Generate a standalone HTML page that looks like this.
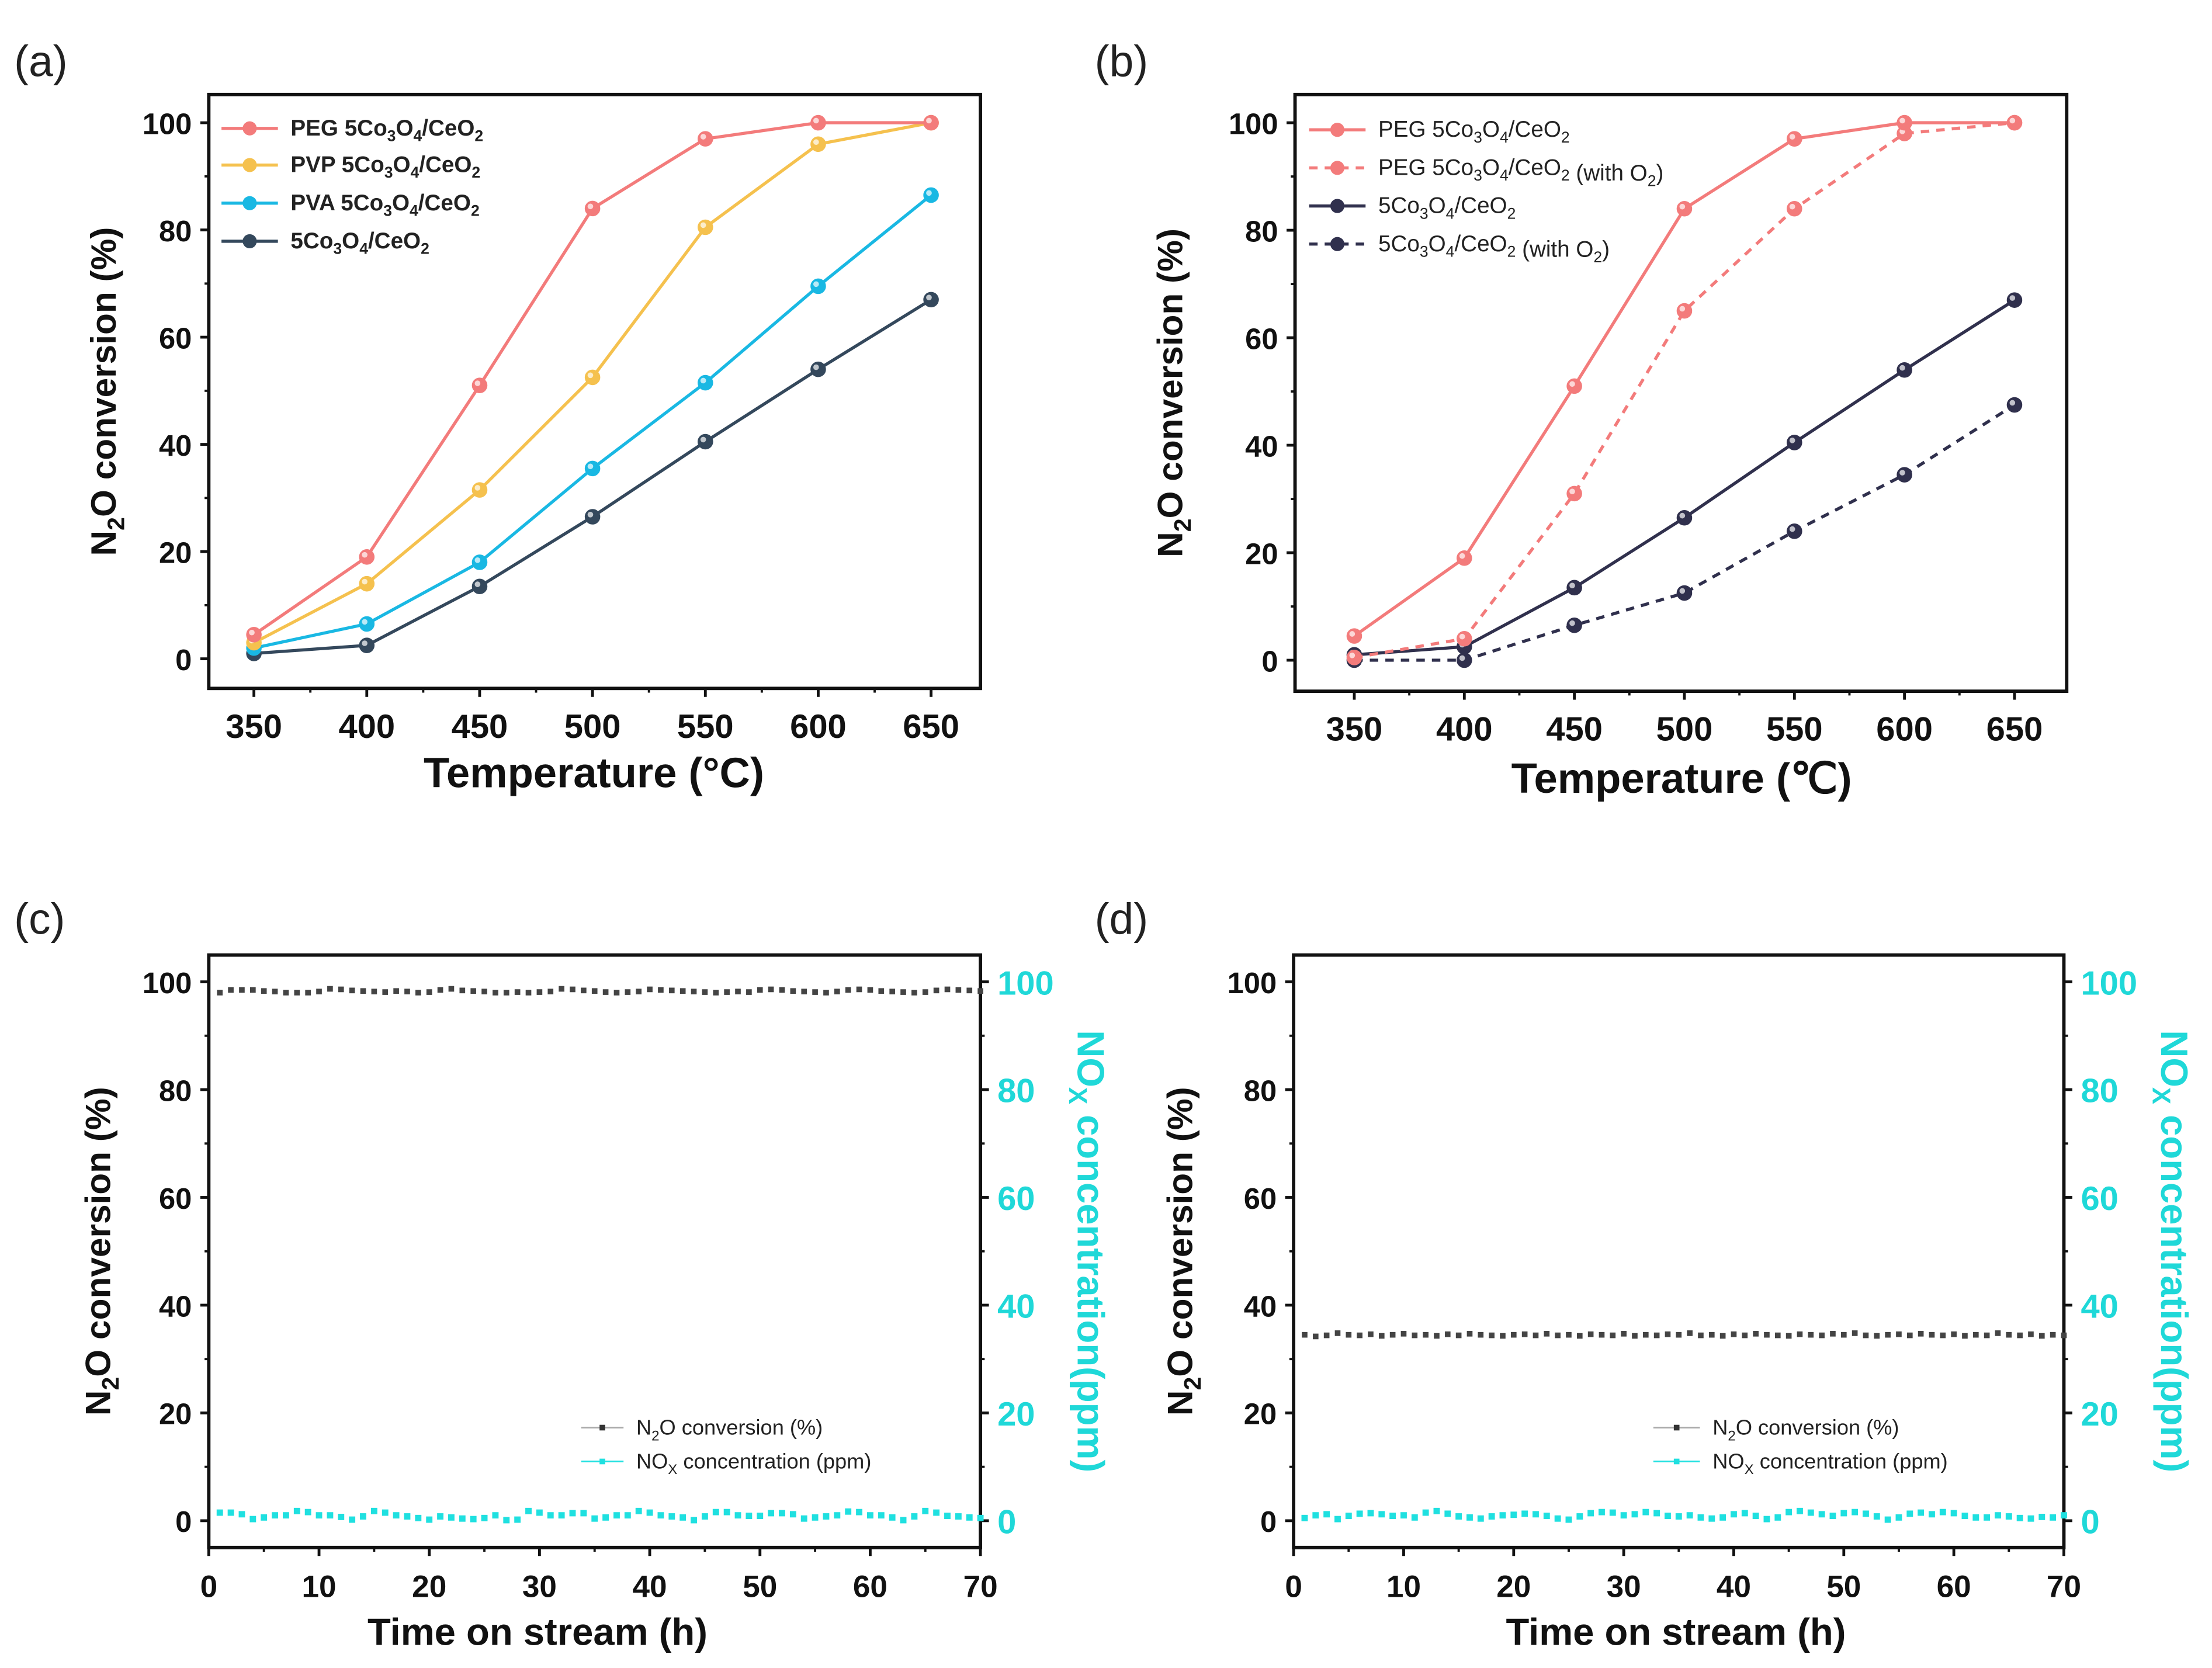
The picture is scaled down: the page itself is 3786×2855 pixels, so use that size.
<!DOCTYPE html>
<html><head><meta charset="utf-8"><style>
html,body{margin:0;padding:0;background:#fff;}
svg{display:block;font-family:"Liberation Sans",Arial,sans-serif;}
</style></head><body>
<svg id="fig" width="3786" height="2855" viewBox="0 0 1568 1182.4" xmlns="http://www.w3.org/2000/svg"></svg>
<script>
// ---- data ----
const tempsA = [350,400,450,500,550,600,650];
const pegA = [4.5,19,51,84,97,100,100];
const pvpA = [3,14,31.5,52.5,80.5,96,100];
const pvaA = [2,6.5,18,35.5,51.5,69.5,86.5];
const coA = [1,2.5,13.5,26.5,40.5,54,67];
const pegO2B = [0.5,4,31,65,84,98,100];
const coO2B = [0,0,6.5,12.5,24,34.5,47.5];
const yTicksTemp = [0,20,40,60,80,100];
const xTicksTemp = [350,400,450,500,550,600,650];
const xTicksTime = [0,10,20,30,40,50,60,70];
const n2oC = [98,98.5,98.5,98.5,98.3,98.2,98,98,98,98.2,98.7,98.6,98.4,98.3,98.2,98.1,98.3,98.2,98,98.1,98.5,98.7,98.4,98.3,98.2,98,98,98.1,98,98.1,98.2,98.7,98.6,98.4,98.3,98.1,98,98.1,98.2,98.6,98.5,98.4,98.3,98.2,98.1,98,98.1,98.2,98.1,98.5,98.6,98.5,98.3,98.2,98.1,98,98.2,98.5,98.6,98.5,98.3,98.2,98.1,98,98.1,98.4,98.6,98.5,98.4,98.3];
const noxC = [1.5,1.5,1.2,0.3,0.6,1,1,1.8,1.6,1,1,0.7,0.2,0.8,1.8,1.5,1,0.8,0.5,0.2,0.8,0.6,0.4,0.3,0.5,1,0.1,0.2,1.8,1.5,1,1,1.4,1.4,0.4,0.6,1,1,1.8,1.5,1,0.8,0.6,0.1,0.8,1.6,1.6,1,0.9,0.9,1.4,1.4,1.2,0.4,0.6,0.8,1,1.7,1.6,1,1,0.6,0.1,0.8,1.8,1.5,0.9,0.8,0.6,0.5];
const n2oD = [34.5,34.2,34.4,34.8,34.5,34.4,34.6,34.3,34.5,34.7,34.4,34.5,34.3,34.6,34.4,34.7,34.5,34.4,34.3,34.5,34.6,34.4,34.7,34.4,34.5,34.3,34.6,34.5,34.4,34.7,34.3,34.5,34.4,34.6,34.5,34.8,34.4,34.5,34.3,34.6,34.4,34.7,34.5,34.4,34.3,34.6,34.5,34.4,34.7,34.5,34.8,34.4,34.3,34.5,34.6,34.4,34.7,34.5,34.4,34.6,34.3,34.5,34.4,34.8,34.5,34.4,34.6,34.3,34.5,34.4];
const noxD = [0.5,1,1.2,0.3,0.9,1.3,1.4,1.2,0.9,1,0.6,1.5,1.8,1.3,0.8,0.6,0.4,0.8,1,1.1,1.3,1.2,0.9,0.4,0.2,0.8,1.4,1.6,1.5,1,1.2,1.6,1.4,0.9,0.8,1,0.6,0.4,0.6,1.2,1.4,0.9,0.3,0.6,1.6,1.8,1.5,1.2,0.9,1.4,1.6,1.3,0.8,0.2,0.6,1.3,1.5,1.2,1.6,1.4,0.9,0.6,0.6,1,0.8,0.5,0.4,0.7,0.6,1];

const NS='http://www.w3.org/2000/svg';
const svg=document.getElementById('fig');
function mk(tag,attrs,parent){const e=document.createElementNS(NS,tag);for(const k in attrs)e.setAttribute(k,attrs[k]);(parent||svg).appendChild(e);return e;}
function txt(s,attrs,parent){const e=mk('text',attrs,parent);e.innerHTML=s;return e;}

function panel(o){
  const g=mk('g',{});
  
  
  const X=v=>o.x0+(v-o.xmin)/(o.xmax-o.xmin)*(o.x1-o.x0);
  const Y=v=>o.y0+(v-o.ymin)/(o.ymax-o.ymin)*(o.y1-o.y0);
  const fr=mk('rect',{x:o.fx0,y:o.fy0,width:o.fx1-o.fx0,height:o.fy1-o.fy0,fill:'none',stroke:'#111','stroke-width':2.4},g);
  
  
  const lab=txt(o.label,{x:o.lx,y:o.ly,'font-size':31,fill:'#222'},g);
  
  
  o.yt.forEach((v,i)=>{
    const y=Y(v);
    mk('line',{x1:o.fx0-6,x2:o.fx0,y1:y,y2:y,stroke:'#111','stroke-width':2},g);
    const t=txt(v,{x:o.fx0-12,y:y+8,'font-size':o.tfs,'font-weight':'bold','text-anchor':'end',fill:'#111'},g);
    
    
    if(i<o.yt.length-1){const ym=Y(v+(o.yt[1]-o.yt[0])/2);mk('line',{x1:o.fx0-3,x2:o.fx0,y1:ym,y2:ym,stroke:'#111','stroke-width':1.6},g);}
    if(o.right){
      mk('line',{x1:o.fx1,x2:o.fx1+6,y1:y,y2:y,stroke:'#111','stroke-width':2},g);
      const r=txt(v,{x:o.fx1+12,y:y+9,'font-size':24,'font-weight':'bold',fill:'#1fd8d8'},g);
      
      
      if(i<o.yt.length-1){const ym=Y(v+(o.yt[1]-o.yt[0])/2);mk('line',{x1:o.fx1,x2:o.fx1+3,y1:ym,y2:ym,stroke:'#111','stroke-width':1.6},g);}
    }
  });
  o.xt.forEach((v,i)=>{
    const x=X(v);
    mk('line',{x1:x,x2:x,y1:o.fy1,y2:o.fy1+6,stroke:'#111','stroke-width':2},g);
    const t=txt(v,{x:x,y:o.fy1+35,'font-size':o.xfs,'font-weight':'bold','text-anchor':'middle',fill:'#111'},g);
    
    
    if(i<o.xt.length-1){const xm=X(v+(o.xt[1]-o.xt[0])/2);mk('line',{x1:xm,x2:xm,y1:o.fy1,y2:o.fy1+3,stroke:'#111','stroke-width':1.6},g);}
  });
  const xt=txt(o.xtitle,{x:o.xtx,y:o.xty,'font-size':o.xtfs,'font-weight':'bold','text-anchor':'middle',fill:'#111'},g);
  
  
  const cy=(o.fy0+o.fy1)/2;
  const yt=txt('N<tspan dy="6" font-size="17">2</tspan><tspan dy="-6">O conversion (%)</tspan>',{x:o.ytx,y:cy,'font-size':25,'font-weight':'bold','text-anchor':'middle',fill:'#111',transform:`rotate(-90 ${o.ytx} ${cy})`},g);
  
  
  if(o.right){
    const rt=txt('NO<tspan dy="6" font-size="18">X</tspan><tspan dy="-6"> concentration(ppm)</tspan>',{x:o.rtx,y:cy,'font-size':27,'font-weight':'bold','text-anchor':'middle',fill:'#1fd8d8',transform:`rotate(90 ${o.rtx} ${cy})`},g);
    
    
  }
  return {g,X,Y};
}
function lineSeries(p,xs,ys,color,dash,name){
  const g=mk('g',{},p.g);
  
  
  mk('polyline',{points:xs.map((x,i)=>p.X(x)+','+p.Y(ys[i])).join(' '),fill:'none',stroke:color,'stroke-width':2.2,'stroke-dasharray':dash||'none'},g);
  xs.forEach((x,i)=>{
    const c=mk('circle',{cx:p.X(x),cy:p.Y(ys[i]),r:5,fill:color,stroke:color,'stroke-width':1},g);
    
    
    mk('circle',{cx:p.X(x)-1.5,cy:p.Y(ys[i])-1.5,r:2,fill:'#fff',opacity:0.7},g);
  });
}
function squares(p,ys,color,name,sz){
  const g=mk('g',{},p.g);
  
  
  ys.forEach((v,i)=>{
    const s=mk('rect',{x:p.X(i+1)-sz/2,y:p.Y(v)-sz/2,width:sz,height:sz,fill:color},g);
    
    
  });
}
function legendItem(parent,x,y,len,color,dash,label,fs,bold,name,marker){
  const g=mk('g',{},parent);
  
  
  mk('line',{x1:x,x2:x+len,y1:y,y2:y,stroke:color,'stroke-width':marker==='sq'?1.2:2.2,'stroke-dasharray':dash||'none'},g);
  if(marker==='sq')mk('rect',{x:x+len/2-2,y:y-2,width:4,height:4,fill:color==='#aaa'?'#333':color},g);
  else mk('circle',{cx:x+len/2,cy:y,r:5,fill:color},g);
  txt(label,{x:x+len+9,y:y+5,'font-size':fs,'font-weight':bold?'bold':'normal',fill:'#222'},g);
}
const sub=s=>`<tspan dy="4" font-size="11">${s}</tspan><tspan dy="-4">`;
const co=`5Co${sub(3)}O</tspan>${sub(4)}/CeO</tspan>${sub(2)}</tspan>`;

const colPEG='#f37b7b',colPVP='#f5c14e',colPVA='#19b8e3',colCO='#34485c',colNavy='#30304d',cyan='#1fe0e0';

// Panel a
const pa=panel({name:'panel-a',label:'(a)',lx:10,ly:54,fx0:148,fx1:695,fy0:67,fy1:488,
  xmin:350,xmax:650,x0:180,x1:660,ymin:0,ymax:100,y0:467,y1:87,yt:yTicksTemp,xt:xTicksTemp,
  xtitle:'Temperature (°C)',xtx:421,xty:558,xtfs:30,ytx:82,tfs:21,xfs:24});
lineSeries(pa,tempsA,coA,colCO,null,'series-5co3o4-ceo2');
lineSeries(pa,tempsA,pvaA,colPVA,null,'series-pva');
lineSeries(pa,tempsA,pvpA,colPVP,null,'series-pvp');
lineSeries(pa,tempsA,pegA,colPEG,null,'series-peg');
const lgA=mk('g',{},pa.g);


legendItem(lgA,157,91,40,colPEG,null,'PEG '+co,16,true,'legend-entry-peg');
legendItem(lgA,157,117,40,colPVP,null,'PVP '+co,16,true,'legend-entry-pvp');
legendItem(lgA,157,144,40,colPVA,null,'PVA '+co,16,true,'legend-entry-pva');
legendItem(lgA,157,171,40,colCO,null,co,16,true,'legend-entry-5co');

// Panel b
const pb=panel({name:'panel-b',label:'(b)',lx:776,ly:54,fx0:918,fx1:1465,fy0:67,fy1:490,
  xmin:350,xmax:650,x0:960,x1:1428,ymin:0,ymax:100,y0:468,y1:87,yt:yTicksTemp,xt:xTicksTemp,
  xtitle:'Temperature (℃)',xtx:1192,xty:562,xtfs:30,ytx:838,tfs:21,xfs:24});
lineSeries(pb,tempsA,coO2B,colNavy,'6,5','series-5co-with-o2');
lineSeries(pb,tempsA,coA,colNavy,null,'series-5co');
lineSeries(pb,tempsA,pegO2B,colPEG,'6,5','series-peg-with-o2');
lineSeries(pb,tempsA,pegA,colPEG,null,'series-peg');
const lgB=mk('g',{},pb.g);


legendItem(lgB,928,92,40,colPEG,null,'PEG '+co,16,false,'legend-entry-peg');
legendItem(lgB,928,119,40,colPEG,'6,5','PEG '+co+' (with O<tspan dy="4" font-size="11">2</tspan><tspan dy="-4">)</tspan>',16,false,'legend-entry-peg-o2');
legendItem(lgB,928,146,40,colNavy,null,co,16,false,'legend-entry-5co');
legendItem(lgB,928,173,40,colNavy,'6,5',co+' (with O<tspan dy="4" font-size="11">2</tspan><tspan dy="-4">)</tspan>',16,false,'legend-entry-5co-o2');

// Panel c
const pc=panel({name:'panel-c',label:'(c)',lx:10,ly:662,fx0:148,fx1:695,fy0:677,fy1:1097,
  xmin:0,xmax:70,x0:148,x1:695,ymin:0,ymax:100,y0:1078,y1:696,yt:yTicksTemp,xt:xTicksTime,right:true,
  xtitle:'Time on stream (h)',xtx:381,xty:1166,xtfs:27,ytx:78,rtx:764,tfs:21,xfs:22});
squares(pc,n2oC,'#444','series-n2o-conversion',4);
squares(pc,noxC,cyan,'series-nox-concentration',4.5);
const lgC=mk('g',{},pc.g);


legendItem(lgC,412,1012,30,'#aaa',null,'N<tspan dy="4" font-size="10">2</tspan><tspan dy="-4">O conversion (%)</tspan>',15,false,'legend-entry-n2o','sq');
legendItem(lgC,412,1036,30,cyan,null,'NO<tspan dy="4" font-size="10">X</tspan><tspan dy="-4"> concentration (ppm)</tspan>',15,false,'legend-entry-nox','sq');

// Panel d
const pd=panel({name:'panel-d',label:'(d)',lx:776,ly:662,fx0:917,fx1:1463,fy0:677,fy1:1097,
  xmin:0,xmax:70,x0:917,x1:1463,ymin:0,ymax:100,y0:1078,y1:696,yt:yTicksTemp,xt:xTicksTime,right:true,
  xtitle:'Time on stream (h)',xtx:1188,xty:1166,xtfs:27,ytx:845,rtx:1532,tfs:21,xfs:22});
squares(pd,n2oD,'#444','series-n2o-conversion',4);
squares(pd,noxD,cyan,'series-nox-concentration',4.5);
const lgD=mk('g',{},pd.g);


legendItem(lgD,1172,1012,33,'#aaa',null,'N<tspan dy="4" font-size="10">2</tspan><tspan dy="-4">O conversion (%)</tspan>',15,false,'legend-entry-n2o','sq');
legendItem(lgD,1172,1036,33,cyan,null,'NO<tspan dy="4" font-size="10">X</tspan><tspan dy="-4"> concentration (ppm)</tspan>',15,false,'legend-entry-nox','sq');
</script>
</body></html>
